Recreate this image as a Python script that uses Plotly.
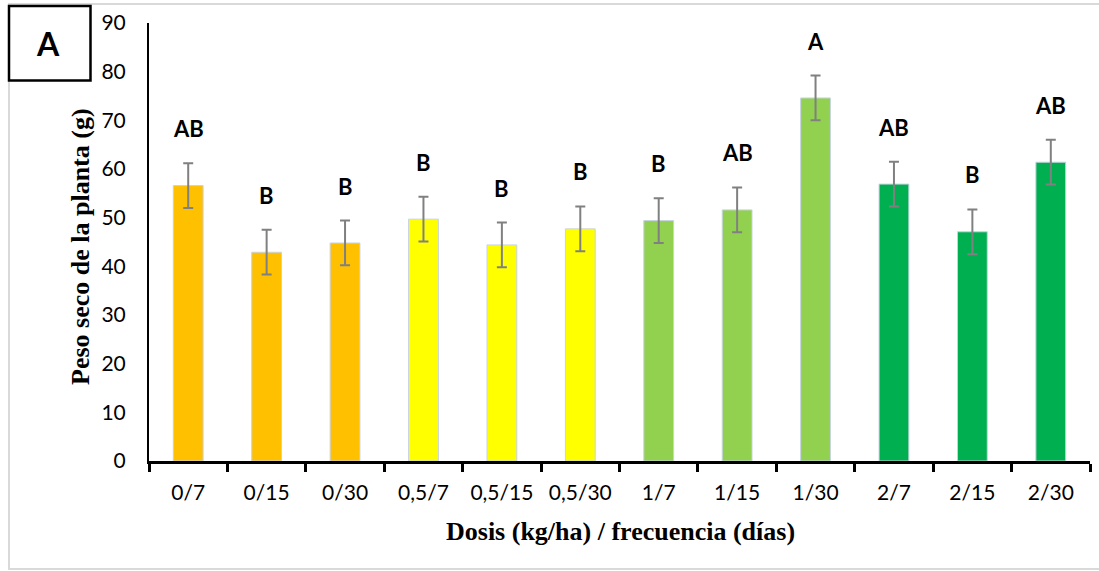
import plotly.graph_objects as go

# Treatments: dose (kg/ha) / application frequency (days)
categories = ["0/7", "0/15", "0/30", "0,5/7", "0,5/15", "0,5/30",
              "1/7", "1/15", "1/30", "2/7", "2/15", "2/30"]
dry_weight = [56.6, 42.9, 44.8, 49.7, 44.4, 47.7,
              49.4, 51.6, 74.6, 56.9, 47.1, 61.4]
error = [4.6, 4.6, 4.6, 4.6, 4.6, 4.6,
         4.6, 4.6, 4.6, 4.6, 4.6, 4.6]
groups = ["AB", "B", "B", "B", "B", "B",
          "B", "AB", "A", "AB", "B", "AB"]
bar_colors = ["#FFC000", "#FFC000", "#FFC000",
              "#FFFF00", "#FFFF00", "#FFFF00",
              "#92D050", "#92D050", "#92D050",
              "#00B050", "#00B050", "#00B050"]

W, H = 1099, 571
L, R, T, B = 149, 1090, 23, 461


def px_x(px):
    return (px - L) / (R - L)


def px_y(py):
    return (B - py) / (B - T)


fig = go.Figure()
fig.add_trace(go.Bar(
    x=categories,
    y=dry_weight,
    width=0.38,
    marker=dict(color=bar_colors, line=dict(color="#c8d3e3", width=1)),
    error_y=dict(type="data", array=error, visible=True,
                 color="#808080", thickness=2, width=5),
    showlegend=False,
))

annotations = []
for cat, val, err, g in zip(categories, dry_weight, error, groups):
    annotations.append(dict(
        x=cat, y=val + err, xref="x", yref="y",
        text=g, showarrow=False, yanchor="bottom", yshift=19,
        font=dict(family="Lato", size=22, color="black", weight="bold"),
    ))

# axis titles
annotations.append(dict(
    x=px_x(620), y=px_y(531), xref="paper", yref="paper",
    text="<b>Dosis (kg/ha) / frecuencia (días)</b>", showarrow=False,
    xanchor="center", yanchor="middle",
    font=dict(family="Liberation Serif", size=26, color="black"),
))
annotations.append(dict(
    x=px_x(80), y=px_y(247), xref="paper", yref="paper",
    text="<b>Peso seco de la planta (g)</b>", showarrow=False, textangle=-90,
    xanchor="center", yanchor="middle",
    font=dict(family="Liberation Serif", size=26, color="black"),
))
# panel letter
annotations.append(dict(
    x=px_x(48), y=px_y(44), xref="paper", yref="paper",
    text="<b>A</b>", showarrow=False, xanchor="center", yanchor="middle",
    font=dict(family="Lato", size=32, color="black"),
))

shapes = [
    # outer frame
    dict(type="rect", xref="paper", yref="paper",
         x0=px_x(9), x1=px_x(1110), y0=px_y(569), y1=px_y(4),
         line=dict(color="#d9d9d9", width=2), layer="below"),
    # panel letter box
    dict(type="rect", xref="paper", yref="paper",
         x0=px_x(9), x1=px_x(90.5), y0=px_y(80.5), y1=px_y(6),
         line=dict(color="black", width=2.5), fillcolor="white"),
]

fig.update_layout(
    width=W, height=H,
    margin=dict(l=L, r=W - R, t=T, b=H - B, pad=0),
    paper_bgcolor="white", plot_bgcolor="white",
    font=dict(family="Lato", size=21, color="black"),
    annotations=annotations,
    shapes=shapes,
    bargap=0.62,
)
fig.update_xaxes(
    type="category", showline=True, linecolor="black", linewidth=3,
    ticks="outside", tickson="boundaries", ticklen=8, tickwidth=3,
    tickcolor="black", showgrid=False, zeroline=False,
    ticklabelstandoff=11,
    tickfont=dict(family="Lato", size=21, color="black"),
)
fig.update_yaxes(
    range=[0, 90], dtick=10, showline=True, linecolor="black", linewidth=2,
    ticks="", showgrid=False, zeroline=False, ticklabelstandoff=17,
    tickfont=dict(family="Lato", size=21, color="black"),
)

fig.write_html("out.html")
